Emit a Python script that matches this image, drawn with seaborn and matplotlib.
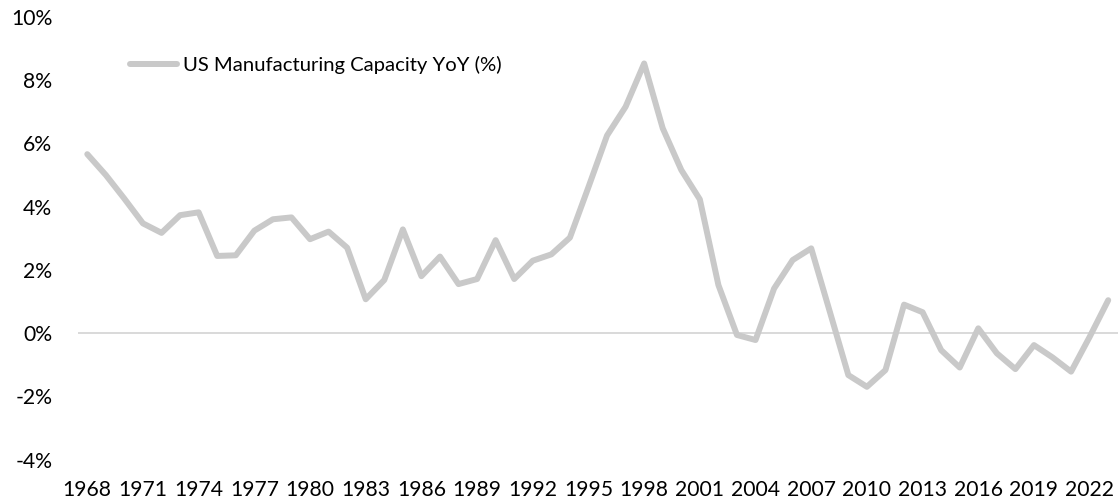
import matplotlib
matplotlib.use("Agg")
import matplotlib.pyplot as plt
import seaborn as sns
import pandas as pd
from matplotlib.ticker import FuncFormatter

# Annual year-over-year change in US manufacturing capacity, percent
years = list(range(1968, 2024))
capacity_yoy = [
    5.66, 5.00, 4.25, 3.47, 3.17, 3.73, 3.82, 2.44, 2.46, 3.24,
    3.60, 3.66, 2.97, 3.21, 2.70, 1.07, 1.68, 3.28, 1.80, 2.42,
    1.55, 1.71, 2.94, 1.71, 2.29, 2.49, 3.02, 4.62, 6.25, 7.16,
    8.53, 6.48, 5.16, 4.23, 1.52, -0.06, -0.22, 1.41, 2.31, 2.68,
    0.68, -1.33, -1.70, -1.17, 0.90, 0.66, -0.54, -1.09, 0.15, -0.64,
    -1.14, -0.38, -0.77, -1.22, -0.12, 1.04,
]
series_name = "US Manufacturing Capacity YoY (%)"
tick_years = list(range(1968, 2023, 3))
y_ticks = [-4, -2, 0, 2, 4, 6, 8, 10]

df = pd.DataFrame({"year": years, "value": capacity_yoy})

sns.set_theme(style="white")
plt.rcParams["font.family"] = ["Lato", "DejaVu Sans"]

W, H = 1119, 504
fig = plt.figure(figsize=(W / 100, H / 100), dpi=100)
ax = fig.add_axes([78 / W, 1 - 459.5 / H, (1117.5 - 78) / W, (459.5 - 17) / H])

ax.axhline(0, color="#d9d9d9", lw=1.4, zorder=1)
sns.lineplot(data=df, x="year", y="value", ax=ax, color="#c9c9c9", lw=4.3,
             label=series_name, zorder=3,
             solid_capstyle="round", solid_joinstyle="round")

ax.set_xlim(1967.5, 2023.5)
ax.set_ylim(-4, 10)
ax.set_xticks(tick_years)
ax.set_xticklabels([str(y) for y in tick_years])
ax.set_yticks(y_ticks)
ax.yaxis.set_major_formatter(FuncFormatter(lambda v, _: f"{v:.0f}%"))
ax.set_xlabel("")
ax.set_ylabel("")
ax.tick_params(axis="x", length=0, pad=15, labelsize=15.2, colors="#000000")
ax.tick_params(axis="y", length=0, pad=18.5, labelsize=15.2, colors="#000000")
for s in ax.spines.values():
    s.set_visible(False)
ax.grid(False)

leg = ax.legend(loc="center left", bbox_to_anchor=(130 / W, 1 - 65 / H),
                bbox_transform=fig.transFigure, frameon=False,
                fontsize=14.6, handlelength=2.3, handletextpad=0.3,
                borderpad=0, borderaxespad=0)
for t in leg.get_texts():
    t.set_color("#000000")

fig.savefig("out.png", dpi=100, facecolor="white")
